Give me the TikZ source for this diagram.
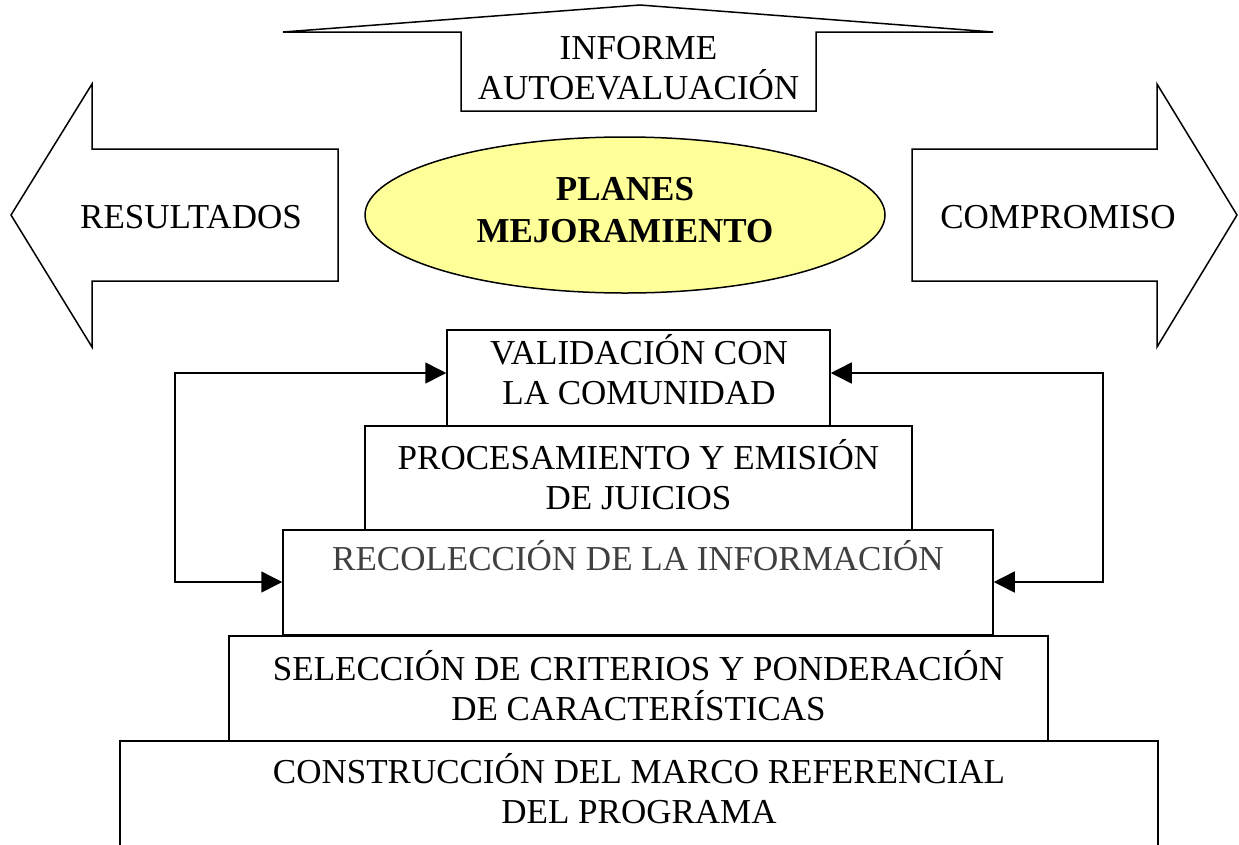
\documentclass[tikz,border=0pt]{standalone}
\usepackage{fontspec}
\setmainfont{Liberation Serif}
\usetikzlibrary{arrows.meta,shapes.geometric}
\definecolor{planfill}{HTML}{FFFF99}
\definecolor{graytext}{HTML}{404040}
\tikzset{
  outline/.style={draw=black,line width=1.5pt,line join=miter},
  box/.style={outline,fill=white,inner sep=0pt},
  lbl/.style={align=center,font=\fontsize{35}{40}\selectfont,inner sep=0pt,anchor=base},
  link/.style={line width=1.5pt,{Triangle[length=21pt,width=21pt]}-{Triangle[length=21pt,width=21pt]}}
}
\begin{document}
\begin{tikzpicture}[x=1pt,y=-1pt]
\useasboundingbox (0,0) rectangle (1239,844);
% top arrow
\draw[outline,fill=white] (283,32) -- (640,5) -- (993,32) -- (816,32) -- (816,111) -- (461,111) -- (461,32) -- cycle;
\node[lbl] (inf) at (638.5,99) {INFORME\\AUTOEVALUACIÓN};
% left arrow
\draw[outline,fill=white] (11,215) -- (92,84) -- (92,149) -- (338,149) -- (338,281) -- (92,281) -- (92,347) -- cycle;
\node[lbl] (res) at (191,228) {RESULTADOS};
% right arrow
\draw[outline,fill=white] (1237,215) -- (1157,84) -- (1157,149) -- (912,149) -- (912,281) -- (1157,281) -- (1157,347) -- cycle;
\node[lbl] (com) at (1058,228) {COMPROMISO};
% ellipse
\node[outline,ellipse,fill=planfill,minimum width=520pt,minimum height=156pt,inner sep=0pt] (plan) at (625,215) {};
\node[lbl,font=\fontsize{35}{42}\selectfont\bfseries] (plantxt) at (625,242) {PLANES\\MEJORAMIENTO};
% stacked boxes
\node[box,minimum width=383pt,minimum height=96pt] (val) at (638.5,378) {};
\node[lbl] (valtxt) at (639,404) {VALIDACIÓN CON\\LA COMUNIDAD};
\node[box,minimum width=547pt,minimum height=104pt] (proc) at (638.5,478) {};
\node[lbl] (proctxt) at (638.5,509) {PROCESAMIENTO Y EMISIÓN\\DE JUICIOS};
\node[box,minimum width=710pt,minimum height=105pt] (rec) at (638,582.5) {};
\node[lbl,text=graytext] (rectxt) at (638,570) {RECOLECCIÓN DE LA INFORMACIÓN};
\node[box,minimum width=819pt,minimum height=105pt] (sel) at (638.5,688.5) {};
\node[lbl] (seltxt) at (638.5,720) {SELECCIÓN DE CRITERIOS Y PONDERACIÓN\\DE CARACTERÍSTICAS};
\draw[outline] (120,850) -- (120,741) -- (1158,741) -- (1158,850);
\node[lbl] (con) at (639,823) {CONSTRUCCIÓN DEL MARCO REFERENCIAL\\DEL PROGRAMA};
% connectors
\coordinate (lt) at (175,373);
\coordinate (lb) at (175,582);
\coordinate (rt) at (1103,373);
\coordinate (rb) at (1103,582);
\draw[link] (val.west |- lt) -- (lt) -- (lb) -- (rec.west |- lb);
\draw[link] (val.east |- rt) -- (rt) -- (rb) -- (rec.east |- rb);
\end{tikzpicture}
\end{document}
